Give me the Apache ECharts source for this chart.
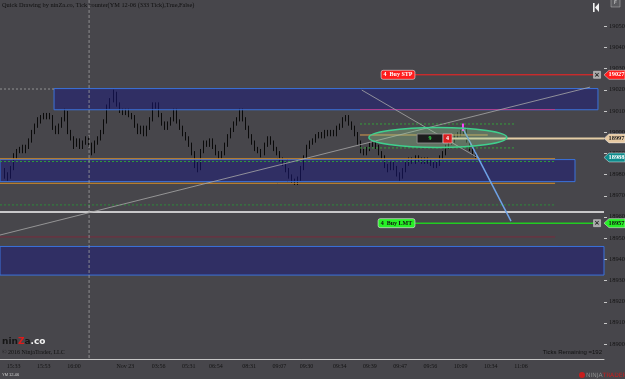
<!DOCTYPE html>
<html>
<head>
<meta charset="utf-8">
<script src="https://cdn.jsdelivr.net/npm/echarts@6/dist/echarts.min.js"></script>
<style>
html,body{margin:0;padding:0;background:#47464b;}
#chart{width:625px;height:379px;}
</style>
</head>
<body>
<div id="chart"></div>
<script>
// YM 12-06, 333 tick bars
var BAR_START = 1;
var SLOTS = 200;

var opens = [18982,18980,18979,18983,18988,18991,18993,18991,18993,18996,19000,19003,19005,19008,19007,19008,19007,19002,19000,19003,
  19006,19009,19000,18997,18994,18996,18993,18995,18997,18994,18991,18995,18997,19000,19005,19012,19015,19018,19013,19010,
  19009,19010,19008,19007,19003,19000,19002,18999,19002,19006,19012,19013,19008,19004,19002,19004,19006,19010,19005,19002,
  18999,18997,18994,18990,18985,18983,18991,18995,18994,18996,18993,18990,18988,18990,18994,18998,19001,19004,19006,19010,
  19006,19002,18998,18995,18992,18991,18990,18994,18997,18995,18992,18990,18987,18985,18982,18979,18977,18976,18978,18983,
  18988,18993,18995,18996,18998,18999,18998,19000,18999,19000,18999,19002,19003,19006,19007,19004,19002,18999,18995,18991,
  18990,18992,18994,18995,18993,18990,18988,18984,18983,18985,18983,18980,18979,18982,18985,18987,18986,18988,18987,18986,
  18987,18986,18985,18984,18985,18988,18990,18993,18995,18996,18998,18999,19000,19001,18996,18992,18990];
var closes = [18980,18979,18983,18989,18991,18992,18991,18993,18996,19000,19003,19006,19007,19007,19008,19007,19002,19000,19003,19006,
  19009,19000,18997,18994,18996,18993,18995,18997,18994,18991,18995,18997,19000,19005,19012,19015,19018,19013,19010,19009,
  19010,19008,19007,19003,19000,19002,18999,19002,19006,19012,19013,19008,19004,19002,19004,19006,19010,19005,19002,18999,
  18997,18994,18990,18985,18983,18991,18995,18994,18996,18993,18990,18988,18990,18994,18998,19001,19004,19006,19010,19006,
  19002,18998,18995,18992,18991,18990,18994,18997,18995,18992,18990,18987,18985,18982,18979,18977,18976,18978,18983,18988,
  18993,18995,18996,18998,18999,18998,19000,18999,19000,18999,19002,19003,19006,19007,19004,19002,18999,18995,18991,18990,
  18992,18994,18995,18993,18990,18988,18984,18983,18985,18983,18980,18979,18982,18985,18987,18986,18988,18987,18986,18987,
  18986,18985,18984,18985,18988,18990,18993,18995,18996,18998,18999,19000,19001,18996,18992,18990,18988];
var lows = [18978,18977,18978,18982,18987,18990,18990,18990,18992,18995,18999,19002,19004,19006,19006,19006,19001,18999,18999,19002,
  19005,18999,18996,18992,18993,18992,18992,18994,18993,18989,18990,18994,18996,18999,19004,19011,19014,19012,19009,19008,
  19008,19007,19006,19002,18999,18999,18998,18998,19001,19005,19011,19007,19003,19001,19001,19003,19005,19004,19001,18998,
  18996,18993,18989,18983,18981,18982,18990,18993,18993,18992,18989,18987,18987,18989,18993,18997,19000,19003,19005,19005,
  19001,18997,18994,18991,18990,18988,18989,18993,18994,18991,18989,18986,18984,18981,18978,18976,18975,18975,18977,18982,
  18987,18992,18994,18995,18997,18997,18997,18998,18998,18998,18998,19001,19002,19005,19003,19001,18998,18994,18990,18989,
  18989,18991,18993,18992,18989,18987,18983,18981,18982,18982,18979,18977,18978,18981,18984,18985,18985,18986,18985,18985,
  18985,18984,18983,18983,18984,18987,18989,18992,18994,18995,18997,18998,18999,18995,18991,18989,18987];
var highs = [18983,18981,18984,18990,18992,18993,18994,18994,18997,19001,19004,19007,19008,19009,19009,19009,19008,19003,19004,19007,
  19011,19010,19001,18998,18997,18997,18996,18998,18998,18995,18996,18998,19001,19006,19013,19016,19020,19019,19014,19011,
  19011,19011,19009,19008,19004,19003,19003,19003,19007,19014,19014,19014,19009,19005,19005,19007,19011,19011,19006,19003,
  19000,18998,18995,18991,18986,18992,18996,18996,18997,18997,18994,18991,18991,18995,18999,19002,19005,19007,19011,19011,
  19007,19003,18999,18996,18993,18992,18995,18998,18998,18996,18993,18991,18988,18986,18983,18980,18978,18979,18984,18989,
  18994,18996,18997,18999,19000,19000,19001,19001,19001,19001,19003,19004,19007,19008,19008,19005,19003,19000,18996,18992,
  18993,18995,18996,18996,18994,18991,18989,18985,18986,18986,18984,18981,18983,18986,18988,18988,18989,18989,18988,18988,
  18988,18987,18986,18986,18989,18991,18994,18996,18997,18999,19000,19001,19003,19002,18997,18993,18991];

var xTickIdx = [4,14,24,35,41,52,62,71,82,92,101,112,122,132,142,152,162,172];
var xTickText = ['15:33','15:53','16:00','','Nov 23','03:56','05:31','06:54','08:31','09:07','09:30','09:34','09:39','09:47','09:56','10:09','10:34','11:06'];
var yTicks = [18900,18910,18920,18930,18940,18950,18960,18970,18980,18990,19000,19010,19020,19030,19040,19050];
var Y_MIN = 18892.9, Y_MAX = 19062.3;

// price zones [fromSlot, toSlot, low, high]
var zones = [[17.4,197.5,19010.5,19020.5],[-0.5,189.9,18976.6,18987],[-0.5,199.5,18932.5,18946]];
// order / marker prices
var stopPrice = 19027, limitPrice = 18957, entryPrice = 18997, lastPrice = 18988;

var categories = [];
for (var i = 0; i < SLOTS; i++) {
  var k = xTickIdx.indexOf(i);
  categories.push(k >= 0 ? xTickText[k] : ' ');
}
var candles = categories.map(function (c, i) {
  var j = i - BAR_START;
  if (j < 0 || j >= closes.length) return '-';
  return [opens[j], closes[j], lows[j], highs[j]];
});

// drawing objects (slot, price)
var drawings = [
  {a:[-0.5,19020.3], b:[17.4,19020.3], color:'#a4a4a4', w:0.8, t:[2,2]},
  {a:[-0.5,18987.4], b:[183.3,18987.4], color:'#d08a28', w:1},
  {a:[-0.5,18975.8], b:[183.3,18975.8], color:'#d08a28', w:1},
  {a:[-0.5,18986.1], b:[183.3,18986.1], color:'#2e9a3c', w:1, t:[2,2]},
  {a:[118.7,19010.6], b:[183.3,19010.6], color:'#b03c8c', w:1},
  {a:[118.7,19003.8], b:[170,19003.8], color:'#35a03c', w:1, t:[2,2]},
  {a:[118.7,18992.5], b:[170,18992.5], color:'#35a03c', w:1, t:[2,2]},
  {a:[118.7,18998.6], b:[161,18998.6], color:'#d89a4c', w:1},
  {a:[148.5,18997], b:[199.5,18997], color:'#e4cda6', w:2},
  {a:[-0.5,18965.6], b:[183.3,18965.6], color:'#2e8a3a', w:1, t:[2,2]},
  {a:[-0.5,18950.5], b:[183.3,18950.5], color:'#7a2a3c', w:1},
  {a:[-0.5,18962.3], b:[199.5,18962.3], color:'#f4f4f4', w:1.5},
  {a:[136.9,stopPrice], b:[197.2,stopPrice], color:'#ff2020', w:1},
  {a:[136.9,limitPrice], b:[197.2,limitPrice], color:'#22cc22', w:1.5},
  {a:[-0.5,18951.4], b:[194.9,19021.2], color:'#a8a8a8', w:0.8},
  {a:[119.3,19019.8], b:[158.4,18987.3], color:'#a8a8a8', w:0.8},
  {a:[152.5,19002.4], b:[168.7,18958], color:'#6ea2e6', w:1.5},
  {a:[152.8,19004], b:[152.8,19000.5], color:'#ff44ff', w:2},
  {a:[29,Y_MAX], b:[29,Y_MIN], color:'#a0a0a0', w:0.8, t:[3,2]}
];

var serif = 'Liberation Serif';
var chart = echarts.init(document.getElementById('chart'));

var series = [
  {
    type: 'candlestick',
    xAxisIndex: 0,
    data: candles,
    barWidth: 1.2,
    z: 2,
    itemStyle: {color:'#2a2a2a', color0:'#0a0a0a', borderColor:'#0a0a0a', borderColor0:'#0a0a0a', borderWidth:1}
  },
  {
    type: 'custom',
    xAxisIndex: 1,
    z: 3,
    silent: true,
    data: zones,
    encode: {x:[0,1], y:[2,3]},
    renderItem: function (params, api) {
      var p1 = api.coord([api.value(0), api.value(3)]);
      var p2 = api.coord([api.value(1), api.value(2)]);
      return {type:'rect', shape:{x:p1[0], y:p1[1], width:p2[0]-p1[0], height:p2[1]-p1[1]},
        style:{fill:'rgba(25,24,125,0.5)', stroke:'#3a72dc', lineWidth:1}};
    }
  }
];
drawings.forEach(function (d) {
  series.push({
    type: 'line', xAxisIndex: 1, z: 4, silent: true, symbol: 'none',
    data: [d.a, d.b],
    lineStyle: {color: d.color, width: d.w, type: d.t || 'solid'}
  });
});

chart.setOption({
  backgroundColor: '#47464b',
  animation: false,
  grid: {left:0, right:21, top:0, bottom:20, show:false},
  xAxis: [
    {
      type: 'category', data: categories, boundaryGap: true,
      axisLine: {lineStyle:{color:'#c8c8c8', width:1}},
      axisTick: {alignWithLabel:true, length:3, lineStyle:{color:'#c8c8c8'},
        interval: function (i) { return xTickIdx.indexOf(i) >= 0; }},
      axisLabel: {interval: function (i) { var k = xTickIdx.indexOf(i); return k >= 0 && xTickText[k] !== ''; },
        fontFamily: serif, fontSize: 6, color:'#141414', margin: 4},
      splitLine: {show:false}
    },
    {type:'value', min:-0.5, max:SLOTS-0.5, show:false}
  ],
  yAxis: {
    type: 'value', position: 'right', min: Y_MIN, max: Y_MAX, show: false,
    splitLine: {show:false}
  },
  series: series
});

function px(slot, price) { return chart.convertToPixel({seriesIndex: 1}, [slot, price]); }

var g = [];
// y axis line, ticks and labels placed with the axis scale
var top = px(199.5, Y_MAX), bot = px(199.5, Y_MIN);
g.push({type:'line', shape:{x1:top[0]+0.5, y1:top[1], x2:top[0]+0.5, y2:bot[1]}, style:{stroke:'#c8c8c8', lineWidth:1}});
yTicks.forEach(function (v) {
  var p = px(199.5, v);
  var y = Math.round(p[1]) + 0.5;
  g.push({type:'line', shape:{x1:p[0], y1:y, x2:p[0]+3, y2:y}, style:{stroke:'#c8c8c8', lineWidth:1}});
  g.push({type:'text', x:p[0]+5, y:p[1], style:{text:String(v), font:'6.4px "Liberation Serif"', fill:'#141414', verticalAlign:'middle'}});
});
// title
g.push({type:'text', left:2, top:2, style:{text:'Quick Drawing by ninZa.co, Tick counter(YM 12-06 (333 Tick),True,False)', font:'6.3px "Liberation Serif"', fill:'#101010'}});

// ellipse around the range
var ec = px(144.5, 18997.4), ex = px(167.35, 18997.4), ey = px(144.5, 19002.1);
g.push({type:'ellipse', shape:{cx:ec[0], cy:ec[1], rx:ex[0]-ec[0], ry:ec[1]-ey[1]},
  style:{fill:'rgba(150,210,150,0.32)', stroke:'#3fd08e', lineWidth:1.5}, z:10});

// tick counter box
var b1 = px(137.6, 18999.1), b2 = px(146.2, 18994.8), b3 = px(149.2, 18994.8);
g.push({type:'rect', shape:{x:b1[0], y:b1[1], width:b2[0]-b1[0], height:b2[1]-b1[1]}, style:{fill:'#1c1c1c', stroke:'#8a8a8a', lineWidth:1}, z:11});
g.push({type:'text', x:(b1[0]+b2[0])/2, y:(b1[1]+b2[1])/2, style:{text:'9', font:'bold 6px "Liberation Serif"', fill:'#2ee04a', align:'center', verticalAlign:'middle'}, z:12});
g.push({type:'rect', shape:{x:b2[0], y:b1[1], width:b3[0]-b2[0], height:b2[1]-b1[1]}, style:{fill:'#d82020', stroke:'#f0f0f0', lineWidth:0.5}, z:11});
g.push({type:'text', x:(b2[0]+b3[0])/2, y:(b1[1]+b2[1])/2, style:{text:'4', font:'bold 6px "Liberation Serif"', fill:'#ffffff', align:'center', verticalAlign:'middle'}, z:12});

// order labels
function orderLabel(slotFrom, slotTo, price, text, fill, txt) {
  var a = px(slotFrom, price), b = px(slotTo, price);
  g.push({type:'rect', shape:{x:a[0], y:a[1]-4.5, width:b[0]-a[0], height:9, r:2}, style:{fill:fill, stroke:'#e8e8e8', lineWidth:0.6}, z:12});
  g.push({type:'text', x:(a[0]+b[0])/2, y:a[1], style:{text:text, font:'bold 6px "Liberation Serif"', fill:txt, align:'center', verticalAlign:'middle'}, z:13});
  var c = px(197.2, price);
  g.push({type:'rect', shape:{x:c[0]-3.5, y:c[1]-3.5, width:7, height:7}, style:{fill:'#a8a8a8', stroke:'#e0e0e0', lineWidth:0.5}, z:12});
  g.push({type:'text', x:c[0], y:c[1], style:{text:'×', font:'bold 7px "DejaVu Sans"', fill:'#222', align:'center', verticalAlign:'middle'}, z:13});
}
orderLabel(125.7, 136.9, stopPrice, '4  Buy STP', '#ff1c1c', '#ffffff');
orderLabel(124.7, 136.9, limitPrice, '4  Buy LMT', '#26f026', '#111111');

// price tags on the axis
function tag(price, fill, txt) {
  var p = px(199.5, price), x = p[0], y = p[1];
  g.push({type:'polygon', shape:{points:[[x,y],[x+5,y-4.5],[625,y-4.5],[625,y+4.5],[x+5,y+4.5]]}, style:{fill:fill, stroke:'#e8e8e8', lineWidth:0.5}, z:20});
  g.push({type:'text', x:x+12.5, y:y, style:{text:String(price), font:'bold 6.4px "Liberation Serif"', fill:txt, align:'center', verticalAlign:'middle'}, z:21});
}
tag(stopPrice, '#ff1c1c', '#ffffff');
tag(entryPrice, '#e6c9a2', '#222222');
tag(lastPrice, '#0f8c8c', '#ffffff');
tag(limitPrice, '#26f026', '#111111');

// top-right icons
g.push({type:'rect', shape:{x:593, y:3, width:1.6, height:9}, style:{fill:'#f2f2f2'}, z:20});
g.push({type:'polygon', shape:{points:[[595,7.5],[599,3],[599,12]]}, style:{fill:'#f2f2f2'}, z:20});
g.push({type:'rect', shape:{x:611, y:-1, width:9, height:8}, style:{fill:'#5a5a5e', stroke:'#bbb', lineWidth:0.5}, z:20});
g.push({type:'text', x:615.5, y:3, style:{text:'F', font:'5px "DejaVu Sans"', fill:'#ddd', align:'center', verticalAlign:'middle'}, z:21});

// bottom texts
g.push({type:'text', left:2, top:337, style:{rich:{a:{fill:'#151515', font:'bold 9px "DejaVu Sans"'}, z:{fill:'#e21a1a', font:'bold 9px "DejaVu Sans"'}, c:{fill:'#f2f2f2', font:'bold 9px "DejaVu Sans"'}}, text:'{a|nin}{z|Z}{a|a}{c|.co}'}});
g.push({type:'text', left:2, top:349, style:{text:'© 2016 NinjaTrader, LLC', font:'6px "Liberation Serif"', fill:'#111'}});
g.push({type:'text', right:23, top:349, style:{text:'Ticks Remaining =192', font:'6px "Liberation Sans"', fill:'#111'}});
g.push({type:'text', left:2, top:373, style:{text:'YM 12-06', font:'4px "Liberation Sans"', fill:'#cfcfcf'}});
g.push({type:'circle', shape:{cx:582, cy:375, r:3}, style:{fill:'#c81e1e'}});
g.push({type:'text', left:586, top:372, style:{rich:{n:{fill:'#8a8a8a', font:'6px "DejaVu Sans"'}, t:{fill:'#c81e1e', font:'6px "DejaVu Sans"'}}, text:'{n|NINJA}{t|TRADER}'}});

chart.setOption({graphic: g});
</script>
</body>
</html>
